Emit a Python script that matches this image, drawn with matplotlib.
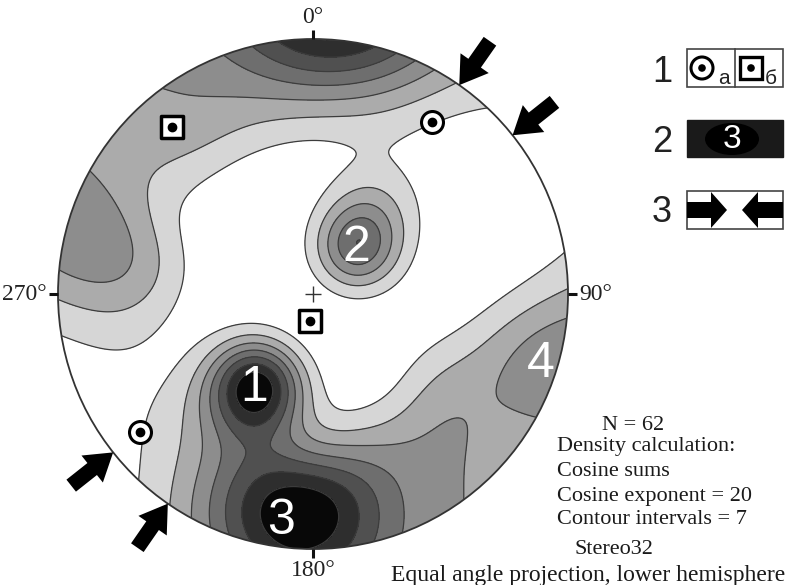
import numpy as np
import matplotlib
matplotlib.use("Agg")
import matplotlib.pyplot as plt
from matplotlib.patches import Circle, Rectangle, Ellipse, FancyArrow

# ---------------- data ----------------
# poles to fractures: trend (deg), plunge (deg), number of measurements
pole_trend = [212, 207, 217, 211, 214, 205,
              187, 180, 194, 174, 201, 168, 209, 160, 190, 176,
              43, 48, 38, 45, 31, 36,
              283, 282, 108, 106,
              332, 316, 312, 348, 10, 22, 355, 0,
              130, 145, 158, 140, 120,
              205, 230, 262, 275, 283, 170]
pole_plunge = [43, 41, 45, 48, 38, 46,
               9, 8, 8, 8, 9, 10, 10, 14, 14, 10,
               62, 59, 58, 66, 46, 40,
               4, 20, 4, 12,
               10, 14, 8, 16, 12, 8, 3, 6,
               20, 16, 24, 8, 28,
               25, 14, 14, 25, 12, 20]
pole_count = [5, 2, 2, 1, 1, 1,
              3, 2, 2, 1, 1, 1, 1, 1, 1, 1,
              4, 1, 1, 1, 1, 1,
              2, 1, 2, 1,
              2, 1, 1, 1, 1, 1, 1, 1,
              2, 1, 1, 1, 1,
              1, 1, 1, 1, 1, 1]

cosine_exponent = 20
n_intervals = 7

# observation points (a) and (б)
obs_a_trend = [34.7, 231.4]
obs_a_plunge = [11.3, 8.1]
obs_b_trend = [319.8, 186.4]
obs_b_plunge = [8.8, 77.8]

# azimuths of compression arrows
compression_trend = [35.0, 51.5, 214.7, 231.6]

# labelled density maxima
max_labels = ["1", "2", "3", "4"]
max_trend = [212, 43, 188, 107]
max_plunge = [43, 62, 6, 4]

dir_ticks = [0, 90, 180, 270]
dir_tick_labels = ["0°", "90°", "180°", "270°"]

fill_colors = ["#ffffff", "#d6d6d6", "#ababab", "#8d8d8d",
               "#6e6e6e", "#505050", "#2e2e2e", "#080808"]

# ---------------- helpers ----------------
def project(trend, plunge):
    t = np.radians(np.asarray(trend, float))
    p = np.radians(np.asarray(plunge, float))
    r = np.tan((np.pi / 2 - p) / 2)
    return r * np.sin(t), r * np.cos(t)


def unit_vectors(trend, plunge):
    t = np.radians(np.asarray(trend, float))
    p = np.radians(np.asarray(plunge, float))
    return np.stack([np.cos(p) * np.cos(t), np.cos(p) * np.sin(t), np.sin(p)], -1)


# ---------------- figure ----------------
W, H = 787, 585
CX, CY, R = 313, 294, 255
fig = plt.figure(figsize=(W / 100, H / 100), dpi=100)
ax = fig.add_axes([0, 0, 1, 1])
ax.set_xlim(-CX / R, (W - CX) / R)
ax.set_ylim(-(H - CY) / R, CY / R)
ax.axis("off")

# density grid (cosine sums, axial data)
g = np.linspace(-1.03, 1.03, 521)
GX, GY = np.meshgrid(g, g)
GR = np.hypot(GX, GY)
g_plunge = 90 - 2 * np.degrees(np.arctan(GR))
g_trend = np.degrees(np.arctan2(GX, GY))
gv = unit_vectors(g_trend, g_plunge)
pv = unit_vectors(pole_trend, pole_plunge)
dots = np.abs(gv @ pv.T)
density = (dots ** cosine_exponent) @ np.asarray(pole_count, float)

dmax = density[GR <= 1].max()
levels = dmax * np.arange(1, n_intervals + 1) / (n_intervals + 1)
bounds = np.concatenate([[-1], levels, [dmax * 10]])

clip = Circle((0, 0), 1, transform=ax.transData)
cf = ax.contourf(GX, GY, density, levels=bounds, colors=fill_colors)
cl = ax.contour(GX, GY, density, levels=levels, colors="#3c3c3c", linewidths=0.9)
cf.set_clip_path(clip)
cl.set_clip_path(clip)

ax.add_patch(Circle((0, 0), 1, fill=False, ec="#333333", lw=1.3))

# direction ticks and labels
serif = ["Liberation Serif", "DejaVu Serif"]
for d, lab in zip(dir_ticks, dir_tick_labels):
    t = np.radians(d)
    ax.plot([np.sin(t), 1.035 * np.sin(t)], [np.cos(t), 1.035 * np.cos(t)],
            color="#111111", lw=2.2, solid_capstyle="butt")
    rr = 1.045
    x, y = rr * np.sin(t), rr * np.cos(t)
    ha = {0: "center", 90: "left", 180: "center", 270: "right"}[d]
    va = {0: "bottom", 90: "center", 180: "top", 270: "center"}[d]
    ax.text(x, y, lab, ha=ha, va=va, fontsize=17, family=serif, color="#222222")

# centre cross
ax.plot([0], [0], marker="+", ms=11, mew=1.0, color="#333333")

# density maxima labels
for lab, t, p in zip(max_labels, max_trend, max_plunge):
    x, y = project(t, p)
    ax.text(x, y, lab, ha="center", va="center", fontsize=36, color="white",
            family=["Liberation Sans", "DejaVu Sans"])

# observation markers
ax_x, ax_y = project(obs_a_trend, obs_a_plunge)
ax.scatter(ax_x, ax_y, s=250, facecolor="white", edgecolor="black", linewidth=2.2, zorder=5)
ax.scatter(ax_x, ax_y, s=36, color="black", zorder=6)
bx, by = project(obs_b_trend, obs_b_plunge)
ax.scatter(bx, by, s=230, marker="s", facecolor="white", edgecolor="black", linewidth=2.5, zorder=5)
ax.scatter(bx, by, s=36, color="black", zorder=6)

# compression arrows pointing to the primitive circle
for t in compression_trend:
    tr = np.radians(t)
    ux, uy = np.sin(tr), np.cos(tr)
    L = 0.21
    ax.add_patch(FancyArrow((1 + L) * ux, (1 + L) * uy, -L * ux, -L * uy,
                            width=0.06, head_width=0.135, head_length=0.105,
                            length_includes_head=True, color="black", lw=0))

# ---------------- legend and notes (pixel overlay) ----------------
ov = fig.add_axes([0, 0, 1, 1], facecolor="none")
ov.set_xlim(0, W)
ov.set_ylim(H, 0)
ov.axis("off")
sans = ["Liberation Sans", "DejaVu Sans"]
for lab, y in zip(["1", "2", "3"], [73, 143, 213]):
    ov.text(662, y, lab, ha="center", va="center", fontsize=26, family=sans, color="#222222")

ov.add_patch(Rectangle((687, 49), 96, 38, fill=False, ec="#444444", lw=1.2))
ov.plot([735, 735], [49, 87], color="#444444", lw=1.2)
ov.add_patch(Circle((702, 68), 11, fc="white", ec="black", lw=2.2))
ov.add_patch(Circle((702, 68), 3.8, fc="black"))
ov.text(718, 78, "a", fontsize=15, family=sans, va="center", color="#222222")
ov.add_patch(Rectangle((740, 57), 22, 22, fc="white", ec="black", lw=2.4))
ov.add_patch(Circle((751, 68), 3.8, fc="black"))
ov.text(765, 78, "б", fontsize=15, family=sans, va="center", color="#222222")

ov.add_patch(Rectangle((687, 120), 96, 37, fc="#1a1a1a", ec="#1a1a1a"))
ov.add_patch(Ellipse((732, 139), 54, 32, fc="black"))
ov.text(732, 140, "3", ha="center", va="center", fontsize=24, family=sans, color="white")

ov.add_patch(Rectangle((687, 191), 96, 38, fill=False, ec="#444444", lw=1.2))
ov.add_patch(FancyArrow(687, 210, 40, 0, width=16, head_width=36, head_length=16,
                        length_includes_head=True, color="black", lw=0))
ov.add_patch(FancyArrow(783, 210, -41, 0, width=16, head_width=36, head_length=16,
                        length_includes_head=True, color="black", lw=0))

notes = [(602, 425, "N = 62"),
         (557, 447, "Density calculation:"),
         (557, 472, "Cosine sums"),
         (557, 497, "Cosine exponent = 20"),
         (557, 520, "Contour intervals = 7"),
         (575, 549, "Stereo32")]
for x, y, s in notes:
    ov.text(x, y, s, ha="left", va="center", fontsize=16, family=serif, color="#1a1a1a")
ov.text(785, 575, "Equal angle projection, lower hemisphere", ha="right", va="center",
        fontsize=17, family=serif, color="#1a1a1a")

fig.savefig("out.png", dpi=100)
